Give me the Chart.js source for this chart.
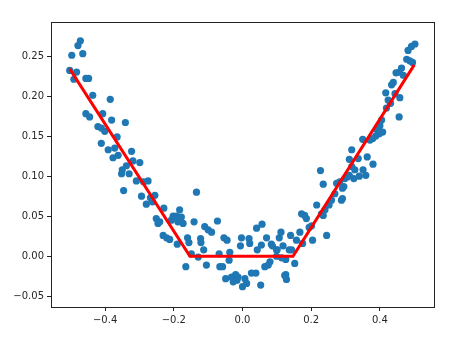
<!DOCTYPE html>
<html>
<head>
<meta charset="utf-8">
<script src="https://cdn.jsdelivr.net/npm/chart.js@4/dist/chart.umd.min.js"></script>
<style>
  body { margin: 0; background: #fff; }
</style>
</head>
<body>
<canvas id="chart" width="472" height="343"></canvas>
<script>
// scatter samples
const pointX = [
  -0.503, -0.497, -0.479, -0.472, -0.465, -0.483, -0.491, -0.456, -0.448, -0.436,
  -0.385, -0.456, -0.445, -0.407, -0.381, -0.341, -0.421, -0.411, -0.401, -0.365,
  -0.411, -0.391, -0.372, -0.362, -0.377, -0.323, -0.319, -0.299, -0.338, -0.350,
  -0.330, -0.352, -0.309, -0.346, -0.288, -0.275, -0.294, -0.268, -0.255, -0.280,
  -0.262, -0.229, -0.251, -0.241, -0.246, -0.202, -0.192, -0.183, -0.178, -0.207,
  -0.188, -0.173, -0.134, -0.141, -0.110, -0.100, -0.090, -0.073, -0.231, -0.221,
  -0.212, -0.190, -0.160, -0.156, -0.122, -0.121, -0.113, -0.149, -0.129, -0.165,
  -0.105, -0.066, -0.058, -0.054, -0.045, -0.068, -0.037, -0.039, -0.049, -0.032,
  -0.020, -0.013, -0.027, -0.016, 0.007, 0.000, 0.012, -0.003, -0.006, 0.019,
  0.021, 0.026, 0.039, 0.053, 0.041, 0.057, 0.043, 0.055, 0.070, 0.065,
  0.075, 0.080, 0.087, 0.099, 0.107, 0.112, 0.118, 0.099, 0.114, 0.126,
  0.123, 0.128, 0.136, 0.143, 0.152, 0.157, 0.167, 0.172, 0.181, 0.186,
  0.194, 0.204, 0.216, 0.227, 0.235, 0.274, 0.283, 0.298, 0.305, 0.291,
  0.288, 0.269, 0.259, 0.252, 0.240, 0.235, 0.201, 0.175, 0.245, 0.140,
  0.084, 0.101, 0.126, 0.311, 0.318, 0.502, 0.492, 0.482, 0.478, 0.487,
  0.495, 0.463, 0.456, 0.447, 0.468, 0.439, 0.434, 0.417, 0.444, 0.458,
  0.424, 0.431, 0.419, 0.405, 0.456, 0.400, 0.392, 0.408, 0.398, 0.388,
  0.379, 0.350, 0.371, 0.337, 0.363, 0.380, 0.318, 0.327, 0.351, 0.359,
  0.324, 0.340, 0.311, 0.295, 0.291, 0.230
];
const pointY = [
  0.232, 0.251, 0.263, 0.269, 0.253, 0.230, 0.221, 0.222, 0.222, 0.201,
  0.196, 0.178, 0.174, 0.178, 0.170, 0.167, 0.162, 0.160, 0.156, 0.149,
  0.141, 0.133, 0.135, 0.126, 0.123, 0.131, 0.119, 0.117, 0.113, 0.108,
  0.103, 0.103, 0.094, 0.082, 0.093, 0.094, 0.075, 0.073, 0.076, 0.065,
  0.068, 0.060, 0.047, 0.043, 0.041, 0.050, 0.050, 0.058, 0.049, 0.045,
  0.043, 0.041, 0.080, 0.043, 0.037, 0.033, 0.030, 0.044, 0.026, 0.023,
  0.021, 0.015, 0.023, 0.017, 0.022, 0.017, 0.008, 0.003, -0.001, -0.013,
  -0.011, -0.013, -0.013, 0.023, 0.020, 0.003, 0.005, -0.005, -0.028, -0.026,
  -0.023, -0.026, -0.032, -0.030, -0.028, -0.038, -0.034, 0.023, 0.013, 0.022,
  0.016, -0.021, -0.021, -0.036, 0.035, 0.040, 0.008, 0.014, 0.023, -0.013,
  -0.011, -0.007, 0.013, 0.008, 0.023, 0.030, 0.013, 0.000, -0.002, -0.004,
  -0.024, -0.029, 0.008, 0.008, -0.009, 0.020, 0.030, 0.053, 0.051, 0.047,
  0.036, 0.020, 0.064, 0.107, 0.090, 0.091, 0.093, 0.097, 0.099, 0.085,
  0.070, 0.078, 0.070, 0.064, 0.058, 0.051, 0.038, 0.016, 0.026, 0.026,
  0.015, 0.008, -0.023, 0.121, 0.133, 0.265, 0.262, 0.257, 0.246, 0.244,
  0.242, 0.235, 0.230, 0.229, 0.226, 0.217, 0.214, 0.204, 0.203, 0.198,
  0.195, 0.191, 0.185, 0.170, 0.174, 0.163, 0.158, 0.155, 0.153, 0.150,
  0.147, 0.146, 0.145, 0.122, 0.124, 0.115, 0.112, 0.108, 0.108, 0.101,
  0.097, 0.100, 0.101, 0.087, 0.072, 0.053
];

// fitted piecewise line
const lineX = [-0.503, -0.153, 0.147, 0.500];
const lineY = [0.234, 0.0, 0.0, 0.239];

const xTicks = [-0.4, -0.2, 0.0, 0.2, 0.4];
const yTicks = [-0.05, 0.0, 0.05, 0.10, 0.15, 0.20, 0.25];

function fmt(v, d) {
    return v.toFixed(d).replace('-', '\u2212');
}

// matplotlib style box round the plot
const frame = {
    id: 'frame',
    afterDraw(chart) {
        const a = chart.chartArea;
        const c = chart.ctx;
        c.save();
        c.strokeStyle = '#222';
        c.lineWidth = 1;
        c.strokeRect(Math.round(a.left) + 0.5, Math.round(a.top) + 0.5,
            Math.round(a.right - a.left), Math.round(a.bottom - a.top));
        c.restore();
    }
};

const ctx = document.getElementById('chart').getContext('2d');
new Chart(ctx, {
    type: 'scatter',
    data: {
        datasets: [{
            type: 'line',
            data: lineX.map((x, i) => ({ x: x, y: lineY[i] })),
            borderColor: '#ff0000',
            borderWidth: 3,
            pointRadius: 0,
            fill: false,
            order: 0
        }, {
            data: pointX.map((x, i) => ({ x: x, y: pointY[i] })),
            backgroundColor: '#1f77b4',
            borderWidth: 0,
            pointRadius: 3.6,
            order: 1
        }]
    },
    options: {
        responsive: false,
        animation: false,
        layout: { padding: { top: 22, right: 38, left: 0, bottom: 0 } },
        plugins: { legend: { display: false }, tooltip: { enabled: false } },
        scales: {
            x: {
                type: 'linear',
                min: -0.5575,
                max: 0.5575,
                afterBuildTicks: s => { s.ticks = xTicks.map(v => ({ value: v })); },
                afterFit: s => { s.height = 36; },
                grid: { drawOnChartArea: false, drawTicks: true, tickLength: 4, color: '#222' },
                border: { display: false },
                ticks: {
                    padding: 3,
                    color: '#262626',
                    font: { family: 'DejaVu Sans', size: 10 },
                    callback: v => fmt(v, 1)
                }
            },
            y: {
                type: 'linear',
                min: -0.0634,
                max: 0.2925,
                afterBuildTicks: s => { s.ticks = yTicks.map(v => ({ value: v })); },
                afterFit: s => { s.width = 51; },
                grid: { drawOnChartArea: false, drawTicks: true, tickLength: 4, color: '#222' },
                border: { display: false },
                ticks: {
                    padding: 3,
                    color: '#262626',
                    font: { family: 'DejaVu Sans', size: 10 },
                    callback: v => fmt(v, 2)
                }
            }
        }
    },
    plugins: [frame]
});
</script>
</body>
</html>
